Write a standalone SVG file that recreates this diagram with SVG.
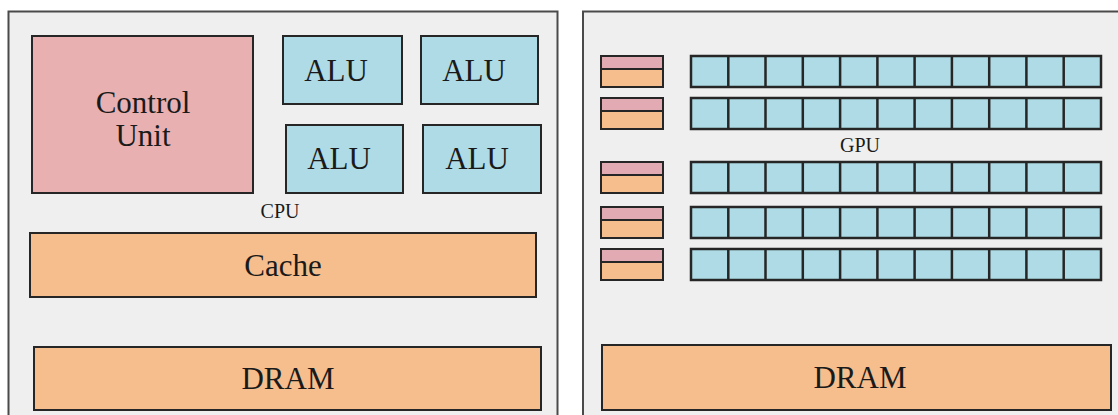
<svg xmlns="http://www.w3.org/2000/svg" width="1118" height="415" viewBox="0 0 1118 415">
<style>
.outer{fill:#efefef;stroke:#4a4a4a;stroke-width:2}
.blk{stroke:#262626;stroke-width:2}
.pink{fill:#e8b0b0}
.blue{fill:#aedbe5}
.orange{fill:#f6bd8d}
.spink{fill:#e2abb3}
text{font-family:'Liberation Serif','DejaVu Serif',serif;fill:#1a1a1a;text-anchor:middle}
.big{font-size:31px}
.small{font-size:20px}
</style>
<rect x="0" y="0" width="1118" height="415" fill="#ffffff"/>
<g id="cpu">
<rect class="outer" x="8.5" y="11.5" width="549" height="415"/>
<text class="small" x="280" y="218" font-family="Liberation Serif, serif">CPU</text>
</g>
<g id="control-unit">
<rect class="blk pink" x="32" y="36" width="221" height="157"/>
<text class="big" x="143" y="113" font-family="Liberation Serif, serif">Control</text>
<text class="big" x="143" y="146" font-family="Liberation Serif, serif">Unit</text>
</g>
<g id="alu-1">
<rect class="blk blue" x="283" y="36" width="119" height="68"/>
<text class="big" x="336" y="81" font-family="Liberation Serif, serif">ALU</text>
</g>
<g id="alu-2">
<rect class="blk blue" x="421" y="36" width="117" height="68"/>
<text class="big" x="474" y="81" font-family="Liberation Serif, serif">ALU</text>
</g>
<g id="alu-3">
<rect class="blk blue" x="286" y="125" width="117" height="68"/>
<text class="big" x="339" y="169" font-family="Liberation Serif, serif">ALU</text>
</g>
<g id="alu-4">
<rect class="blk blue" x="423" y="125" width="118" height="68"/>
<text class="big" x="477" y="169" font-family="Liberation Serif, serif">ALU</text>
</g>
<g id="cache">
<rect class="blk orange" x="30" y="233" width="506" height="64"/>
<text class="big" x="283" y="276" font-family="Liberation Serif, serif">Cache</text>
</g>
<g id="cpu-dram">
<rect class="blk orange" x="34" y="347" width="507" height="63"/>
<text class="big" x="288" y="389" font-family="Liberation Serif, serif">DRAM</text>
</g>
<g id="gpu">
<rect class="outer" x="583" y="11.5" width="545" height="415"/>
<text class="small" x="860" y="152" font-family="Liberation Serif, serif">GPU</text>
</g>
<defs>
<g id="ctl">
<rect class="blk orange" x="0" y="0" width="62" height="31"/>
<rect class="blk spink" x="0" y="0" width="62" height="13"/>
</g>
<g id="row">
<rect class="blue" x="691" y="0" width="410" height="31"/>
<path d="M728.3 0V31M765.5 0V31M802.8 0V31M840.1 0V31M877.4 0V31M914.6 0V31M951.9 0V31M989.2 0V31M1026.4 0V31M1063.7 0V31" stroke="#262626" stroke-width="2.5" fill="none"/>
<rect x="691" y="0" width="410" height="31" fill="none" stroke="#262626" stroke-width="2.5"/>
</g>
</defs>
<g id="gpu-row-1">
<use href="#ctl" x="601" y="56"/>
<use href="#row" y="56"/>
</g>
<g id="gpu-row-2">
<use href="#ctl" x="601" y="98"/>
<use href="#row" y="98"/>
</g>
<g id="gpu-row-3">
<use href="#ctl" x="601" y="162"/>
<use href="#row" y="162"/>
</g>
<g id="gpu-row-4">
<use href="#ctl" x="601" y="207"/>
<use href="#row" y="207"/>
</g>
<g id="gpu-row-5">
<use href="#ctl" x="601" y="249"/>
<use href="#row" y="249"/>
</g>
<g id="gpu-dram">
<rect class="blk orange" x="602" y="345" width="509" height="65"/>
<text class="big" x="860" y="388" font-family="Liberation Serif, serif">DRAM</text>
</g>
<g id="connectors"></g>
</svg>
